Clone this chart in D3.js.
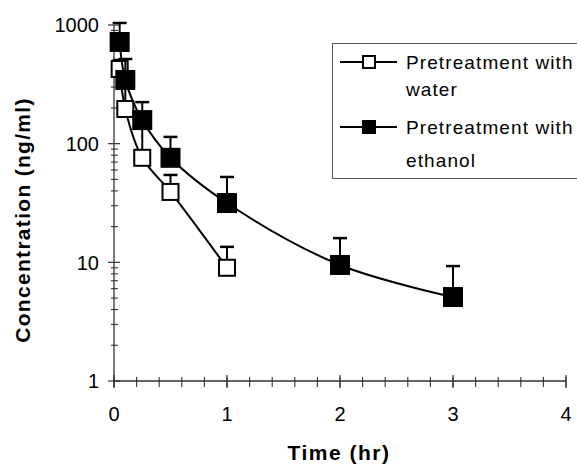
<!DOCTYPE html>
<html>
<head>
<meta charset="utf-8">
<script src="https://cdn.jsdelivr.net/npm/d3@7"></script>
<style>
  body { margin: 0; background: #fff; }
  text { font-family: "Liberation Sans", Arial, sans-serif; }
</style>
</head>
<body>
<div id="chart"></div>
<script>
// data
var times = [0.05, 0.1, 0.25, 0.5, 1, 2, 3];
var waterMean = [426, 196, 76, 39.2, 9.0];
var waterSD = [81, 110, 65, 15.3, 4.5];
var ethanolMean = [719, 344, 158, 76, 31.6, 9.5, 5.1];
var ethanolSD = [321, 173, 66, 38, 20.8, 6.5, 4.2];
var xTicks = [0, 1, 2, 3, 4];
var yTicks = [1, 10, 100, 1000];
var legendNames = [["Pretreatment with", "water"], ["Pretreatment with", "ethanol"]];

var width = 577, height = 468;

var svg = d3.select("#chart")
  .append("svg")
    .attr("width", width)
    .attr("height", height);

var x = d3.scaleLinear().domain([0, 4]).range([114, 566]);
var y = d3.scaleLog().domain([1, 1000]).range([381, 25]);

// minor ticks
var xMinor = d3.range(0, 4.001, 0.2);
var yMinor = [];
[1, 10, 100].forEach(function(d) {
  for (var k = 2; k <= 9; k++) yMinor.push(d * k);
});

var axisColor = "#333";

// Y axis
svg.append("line")
  .attr("x1", x(0)).attr("x2", x(0))
  .attr("y1", y(1000)).attr("y2", y(1) + 6)
  .attr("stroke", axisColor).attr("stroke-width", 1.3);
svg.selectAll(".ymin").data(yMinor).enter().append("line")
  .attr("x1", x(0) - 3).attr("x2", x(0) + 4)
  .attr("y1", function(d) { return y(d); })
  .attr("y2", function(d) { return y(d); })
  .attr("stroke", axisColor).attr("stroke-width", 1.1);
svg.selectAll(".ymaj").data(yTicks).enter().append("line")
  .attr("x1", x(0) - 6).attr("x2", x(0) + 6)
  .attr("y1", function(d) { return y(d); })
  .attr("y2", function(d) { return y(d); })
  .attr("stroke", axisColor).attr("stroke-width", 1.2);
svg.selectAll(".ylab").data(yTicks).enter().append("text")
  .attr("x", x(0) - 15)
  .attr("y", function(d) { return y(d); })
  .attr("dy", "0.36em")
  .attr("text-anchor", "end")
  .style("font-size", "20px")
  .text(function(d) { return d; });

// X axis
svg.append("line")
  .attr("x1", x(0)).attr("x2", x(4))
  .attr("y1", y(1)).attr("y2", y(1))
  .attr("stroke", axisColor).attr("stroke-width", 1.3);
svg.selectAll(".xmin").data(xMinor).enter().append("line")
  .attr("x1", function(d) { return x(d); })
  .attr("x2", function(d) { return x(d); })
  .attr("y1", y(1) - 4).attr("y2", y(1) + 6)
  .attr("stroke", axisColor).attr("stroke-width", 1.1);
svg.selectAll(".xmaj").data(xTicks).enter().append("line")
  .attr("x1", function(d) { return x(d); })
  .attr("x2", function(d) { return x(d); })
  .attr("y1", y(1) - 6).attr("y2", y(1) + 7)
  .attr("stroke", axisColor).attr("stroke-width", 1.2);
svg.selectAll(".xlab").data(xTicks).enter().append("text")
  .attr("x", function(d) { return x(d); })
  .attr("y", 414)
  .attr("dy", "0.36em")
  .attr("text-anchor", "middle")
  .style("font-size", "20px")
  .text(function(d) { return d; });

// axis titles
svg.append("text")
  .attr("x", 339).attr("y", 452).attr("dy", "0.36em")
  .attr("text-anchor", "middle")
  .style("font-size", "21px").style("font-weight", "bold")
  .style("letter-spacing", "1.5px")
  .text("Time (hr)");
svg.append("text")
  .attr("transform", "translate(22,220) rotate(-90)")
  .attr("dy", "0.36em")
  .attr("text-anchor", "middle")
  .style("font-size", "21px").style("font-weight", "bold")
  .style("letter-spacing", "1.3px")
  .text("Concentration (ng/ml)");

// series
var line = d3.line()
  .x(function(d) { return x(d.t); })
  .y(function(d) { return y(d.v); })
  .curve(d3.curveCatmullRom.alpha(0.5));

var series = [
  { mean: waterMean, sd: waterSD, fill: "#fff", size: 16 },
  { mean: ethanolMean, sd: ethanolSD, fill: "#000", size: 18 }
];

series.forEach(function(s) {
  var pts = s.mean.map(function(v, i) { return { t: times[i], v: v, sd: s.sd[i] }; });

  svg.append("path").datum(pts)
    .attr("d", line)
    .attr("fill", "none").attr("stroke", "#000").attr("stroke-width", 2);

  // error bars (upper only)
  var eb = svg.append("g");
  eb.selectAll("line.v").data(pts).enter().append("line")
    .attr("x1", function(d) { return x(d.t); })
    .attr("x2", function(d) { return x(d.t); })
    .attr("y1", function(d) { return y(d.v); })
    .attr("y2", function(d) { return y(d.v + d.sd); })
    .attr("stroke", "#000").attr("stroke-width", 2);
  eb.selectAll("line.c").data(pts).enter().append("line")
    .attr("x1", function(d) { return x(d.t) - 7; })
    .attr("x2", function(d) { return x(d.t) + 7; })
    .attr("y1", function(d) { return y(d.v + d.sd); })
    .attr("y2", function(d) { return y(d.v + d.sd); })
    .attr("stroke", "#000").attr("stroke-width", 2.5);

  svg.append("g").selectAll("rect").data(pts).enter().append("rect")
    .attr("x", function(d) { return x(d.t) - s.size / 2; })
    .attr("y", function(d) { return y(d.v) - s.size / 2; })
    .attr("width", s.size).attr("height", s.size)
    .attr("fill", s.fill).attr("stroke", "#000").attr("stroke-width", 2);
});

// legend
var lg = svg.append("g");
lg.append("rect")
  .attr("x", 332.5).attr("y", 43.5)
  .attr("width", 300).attr("height", 135)
  .attr("fill", "#fff").attr("stroke", "#555").attr("stroke-width", 1);

var legendY = [62, 127];
legendNames.forEach(function(n, i) {
  var ly = legendY[i];
  lg.append("line")
    .attr("x1", 340).attr("x2", 397).attr("y1", ly).attr("y2", ly)
    .attr("stroke", "#000").attr("stroke-width", 2);
  lg.append("rect")
    .attr("x", 369 - 6).attr("y", ly - 6).attr("width", 12).attr("height", 12)
    .attr("fill", series[i].fill).attr("stroke", "#000").attr("stroke-width", 2);
  lg.append("text")
    .attr("x", 406).attr("y", ly).attr("dy", "0.36em")
    .style("font-size", "19px").style("letter-spacing", "1.1px")
    .text(n[0]);
  lg.append("text")
    .attr("x", 406).attr("y", ly + (i === 0 ? 27 : 33)).attr("dy", "0.36em")
    .style("font-size", "19px").style("letter-spacing", "1.1px")
    .text(n[1]);
});
</script>
</body>
</html>
